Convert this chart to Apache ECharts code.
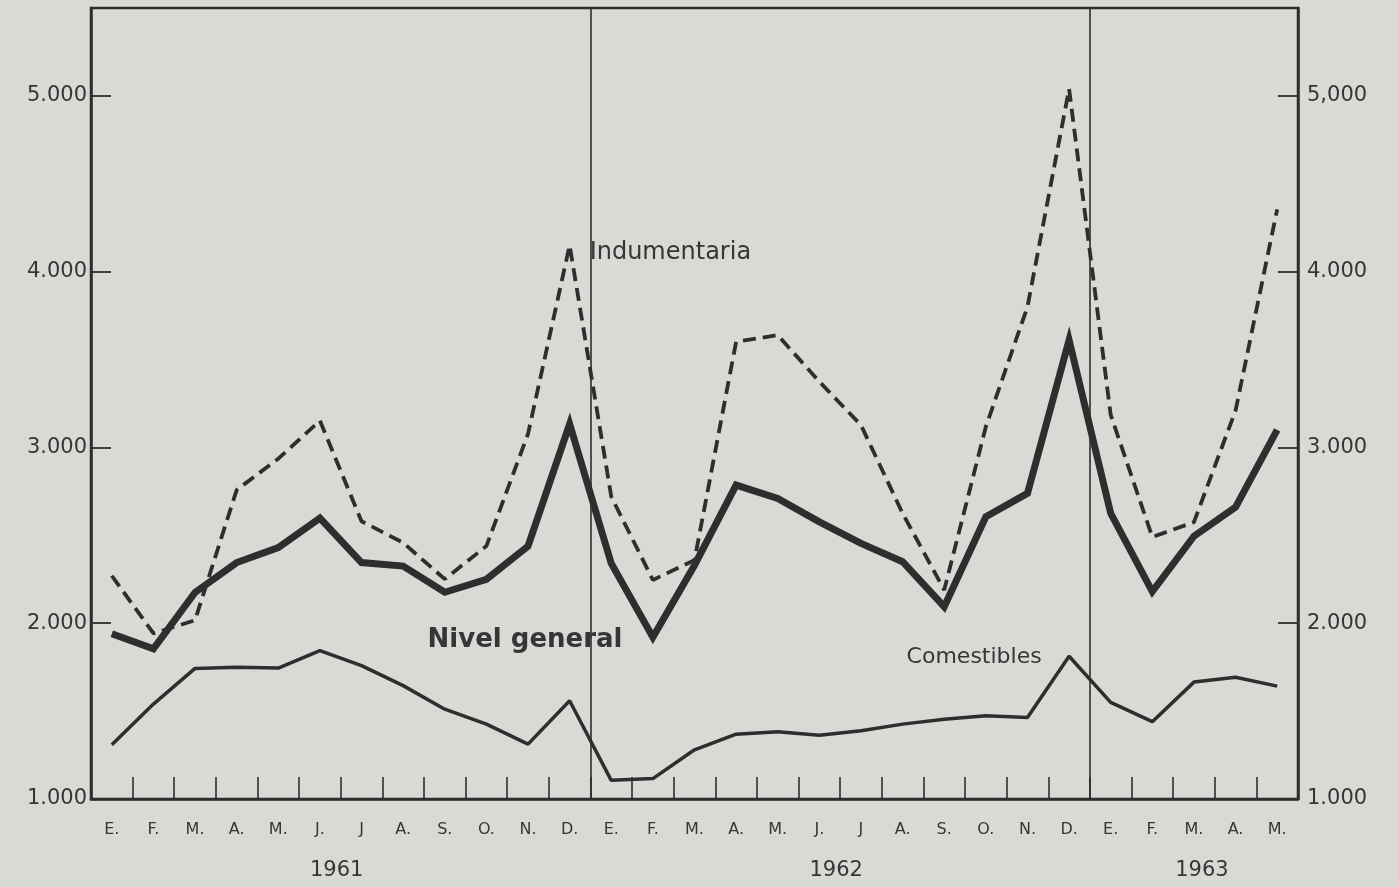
<!DOCTYPE html>
<html>
<head>
<meta charset="utf-8">
<script src="https://cdn.jsdelivr.net/npm/echarts@6/dist/echarts.min.js"></script>
<style>
html,body{margin:0;padding:0;background:#d9d9d6;}
#c{width:1399px;height:887px;}
</style>
</head>
<body>
<div id="c"></div>
<script>
// Categories: Jan 1961 .. May 1963
const months = [
  '1961-01','1961-02','1961-03','1961-04','1961-05','1961-06','1961-07','1961-08','1961-09','1961-10','1961-11','1961-12',
  '1962-01','1962-02','1962-03','1962-04','1962-05','1962-06','1962-07','1962-08','1962-09','1962-10','1962-11','1962-12',
  '1963-01','1963-02','1963-03','1963-04','1963-05'
];
const monthLabels = [
  'E.','F.','M.','A.','M.','J.','J','A.','S.','O.','N.','D.',
  'E.','F.','M.','A.','M.','J.','J','A.','S.','O.','N.','D.',
  'E.','F.','M.','A.','M.'
];
const years = ['1961','1962','1963'];
const yearFirstIdx = [0, 12, 24];
const yearLastIdx = [11, 23, 28];

// Series values
const nivelGeneral = [
  1940,1855,2175,2345,2430,2598,2345,2325,2176,2250,2438,3133,
  2340,1920,2330,2786,2710,2577,2454,2350,2094,2606,2739,3611,
  2625,2180,2495,2660,3100
];
const indumentaria = [
  2270,1942,2017,2758,2936,3152,2580,2458,2251,2439,3077,4150,
  2720,2246,2359,3601,3639,3374,3127,2625,2189,3118,3800,5040,
  3185,2490,2575,3210,4355
];
const comestibles = [
  1308,1540,1743,1749,1745,1844,1759,1645,1511,1426,1312,1559,
  1106,1116,1280,1369,1382,1363,1388,1426,1454,1473,1464,1812,
  1550,1440,1665,1693,1642
];

// Axis
const yMin = 1000, yMax = 5500, yStep = 1000;
const leftTickLabels = {1000:'1.000',2000:'2.000',3000:'3.000',4000:'4.000',5000:'5.000'};
const rightTickLabels = {1000:'1.000',2000:'2.000',3000:'3.000',4000:'4.000',5000:'5,000'};

const INK = '#2e2e2e';
const TEXT = '#363636';
const FONT = 'DejaVu Sans';

const chart = echarts.init(document.getElementById('c'), null, {renderer:'canvas'});

const yAxisBase = {
  type:'value', min:yMin, max:yMax, interval:yStep,
  axisLine:{show:true, lineStyle:{color:INK, width:2.5}},
  axisTick:{show:true, inside:true, length:20, lineStyle:{color:INK, width:1.8}},
  splitLine:{show:false}
};

chart.setOption({
  backgroundColor:'#d9d9d6',
  animation:false,
  grid:{left:91, right:101, top:8, bottom:88, show:true, borderColor:INK, borderWidth:2.5, backgroundColor:'transparent'},
  xAxis:{
    type:'category', data:months, boundaryGap:true,
    axisLine:{show:true, lineStyle:{color:INK, width:2.5}},
    axisTick:{show:true, inside:true, length:22, lineStyle:{color:INK, width:1.6}},
    axisLabel:{formatter:(v,i)=>monthLabels[i], margin:23, fontSize:16, color:TEXT, fontFamily:FONT, interval:0},
    splitLine:{show:true, interval:(i)=> i===12 || i===24, lineStyle:{color:INK, width:1.6}}
  },
  yAxis:[
    Object.assign({}, yAxisBase, {position:'left',
      axisLabel:{formatter:v=>leftTickLabels[v]||'', fontSize:21, color:TEXT, fontFamily:FONT, margin:4}}),
    Object.assign({}, yAxisBase, {position:'right',
      axisLabel:{formatter:v=>rightTickLabels[v]||'', fontSize:21, color:TEXT, fontFamily:FONT, margin:9}})
  ],
  series:[
    {name:'Indumentaria', type:'line', data:indumentaria, symbol:'none', yAxisIndex:0,
     lineStyle:{color:INK, width:3.8, type:[13,7]}, z:3},
    {name:'Nivel general', type:'line', data:nivelGeneral, symbol:'none', yAxisIndex:0,
     lineStyle:{color:INK, width:7, join:'miter'}, z:4},
    {name:'Comestibles', type:'line', data:comestibles, symbol:'none', yAxisIndex:0,
     lineStyle:{color:INK, width:3.5}, z:3}
  ]
});

function px(i, v){ return chart.convertToPixel({xAxisIndex:0, yAxisIndex:0}, [i, v]); }

const graphics = [];
years.forEach((y, k) => {
  const a = px(yearFirstIdx[k], yMin), b = px(yearLastIdx[k], yMin);
  graphics.push({type:'text', x:(a[0]+b[0])/2 + (k===2?8:-4), y:a[1]+72,
    style:{text:y, fill:TEXT, font:'21px "'+FONT+'"', align:'center', verticalAlign:'middle'}});
});
const pInd = px(11, 4110);
graphics.push({type:'text', x:pInd[0]+20, y:pInd[1],
  style:{text:'Indumentaria', fill:TEXT, font:'24px "'+FONT+'"', align:'left', verticalAlign:'middle'}});
const pNiv = px(10, 1905);
graphics.push({type:'text', x:pNiv[0]-3, y:pNiv[1],
  style:{text:'Nivel general', fill:TEXT, font:'bold 26px "'+FONT+'"', align:'center', verticalAlign:'middle'}});
const pCom = px(19, 1808);
graphics.push({type:'text', x:pCom[0]+4, y:pCom[1],
  style:{text:'Comestibles', fill:TEXT, font:'22px "'+FONT+'"', align:'left', verticalAlign:'middle'}});
chart.setOption({graphic:graphics});
</script>
</body>
</html>
